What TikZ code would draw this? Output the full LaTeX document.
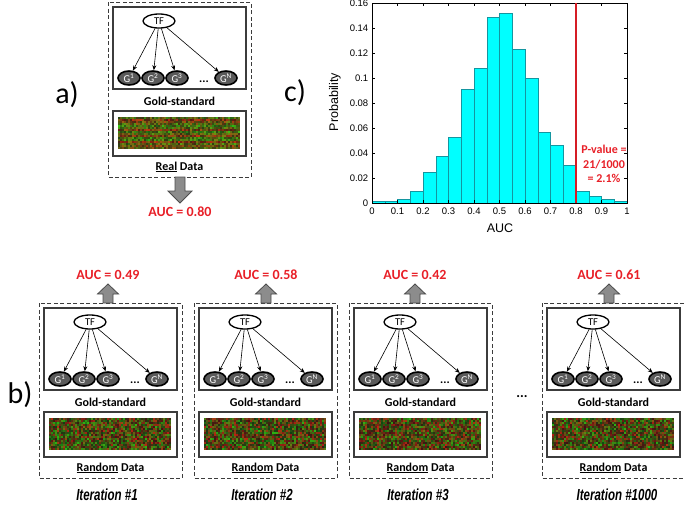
\documentclass[tikz,border=0pt]{standalone}
\usepackage{fontspec}
\usepackage{graphicx}
\setmainfont{Carlito}
\newfontfamily\arialf{Liberation Sans}
\usetikzlibrary{arrows.meta,shapes.geometric}
\definecolor{aucred}{RGB}{232,32,40}
\definecolor{gnode}{RGB}{90,90,90}
\definecolor{boxgray}{RGB}{60,60,60}
\definecolor{barcyan}{RGB}{0,255,255}
\definecolor{baredge}{RGB}{20,150,160}
\definecolor{arrowgray}{RGB}{140,140,140}
\tikzset{
 dashbox/.style={draw=boxgray, dash pattern=on 4pt off 2.5pt, line width=0.9pt},
 innerbox/.style={draw=boxgray, line width=1.2pt},
 tfnode/.style={ellipse, draw=black, line width=1.3pt, fill=white, minimum width=32pt, minimum height=14pt, inner sep=0pt, font=\fontsize{10.5}{10.5}\selectfont},
 gnodes/.style={ellipse, draw=black, line width=1.6pt, fill=gnode, text=white, minimum width=22pt, minimum height=14pt, inner sep=0pt, font=\fontsize{10.5}{10.5}\selectfont},
 tfarrow/.style={-{Stealth[length=5pt,width=4pt]}, line width=0.6pt},
 lbl/.style={font=\bfseries\fontsize{12}{12}\selectfont, inner sep=0pt},
 auclbl/.style={font=\bfseries\fontsize{14}{14}\selectfont, text=aucred, inner sep=0pt},
 blockarrow/.style={fill=arrowgray, draw=black!70, line width=0.8pt},
 iterlbl/.style={font=\arialf\bfseries\itshape\fontsize{16}{16}\selectfont, inner sep=0pt},
 panellbl/.style={font=\fontsize{30}{30}\selectfont, inner sep=0pt},
 ticklbl/.style={font=\arialf\fontsize{9.5}{10}\selectfont, inner sep=1pt},
 axlbl/.style={font=\arialf\fontsize{12.5}{13}\selectfont, inner sep=0pt},
 histbar/.style={fill=barcyan, draw=baredge, line width=0.5pt},
}
% heat map: #1 x, #2 y, #3 real flag (1 real, 0 random)
\newcommand\hmap[3]{%
 \foreach \j in {0,2,...,30} {%
  \pgfmathsetmacro\rb{rnd}%
  \foreach \i in {0,2,...,120} {%
   \pgfmathsetmacro\tt{(1-#3)*rnd + #3*(0.45*rnd+0.55*\rb)}%
   \pgfmathsetmacro\kk{0.3+0.55*rnd+#3*0.1}%
   \pgfmathsetmacro\rr{\kk*(0.18+0.7*\tt)}%
   \pgfmathsetmacro\gg{\kk*(0.15+0.72*(1-\tt))}%
   \definecolor{hmc}{rgb}{\rr,\gg,0.07}%
   \fill[hmc] (#1+\i,#2+\j) rectangle ++(2.05,2.05);
  }%
 }%
}
% panel: #1 x0, #2 y0, #3 name, #4 data word, #5 real flag
\newcommand\gpanel[5]{%
\begin{scope}[shift={(#1,#2)}]
 \draw[dashbox] (0,0) rectangle (143,175);
 \draw[innerbox] (5,5) rectangle (138,87);
 \node[tfnode] (#3tf) at (51,19) {TF};
 \node[gnodes] (#3ga) at (21,76) {G\textsuperscript{1}};
 \node[gnodes] (#3gb) at (45,76) {G\textsuperscript{2}};
 \node[gnodes] (#3gc) at (69,76) {G\textsuperscript{3}};
 \node[gnodes] (#3gn) at (118,76) {G\textsuperscript{N}};
 \node[lbl] (#3dots) at (96,80) {...};
 \draw[tfarrow] (#3tf) -- (#3ga);
 \draw[tfarrow] (#3tf) -- (#3gb);
 \draw[tfarrow] (#3tf) -- (#3gc);
 \draw[tfarrow] (#3tf) -- (#3gn);
 \node[lbl] (#3gs) at (71.5,99) {Gold-standard};
 \draw[innerbox] (5,109) rectangle (138,154);
 \hmap{10}{115}{#5}
 \node[lbl] (#3dl) at (71.5,165) {\underline{#4} Data};
\end{scope}}
% up arrow at x #1
\newcommand\uparr[1]{%
 \draw[blockarrow] (#1-5,303) -- (#1-5,294) -- (#1-10.5,294) -- (#1,284) -- (#1+10.5,294) -- (#1+5,294) -- (#1+5,303) -- cycle;}
\begin{document}
\begin{tikzpicture}[x=1pt,y=-1pt]
\useasboundingbox (0,0) rectangle (685,506);
\pgfmathsetseed{4242}
% panel a
\gpanel{108}{2}{pa}{Real}{1}
\draw[blockarrow] (175,177) -- (185,177) -- (185,191) -- (192,191) -- (180,203) -- (168,191) -- (175,191) -- cycle;
\node[auclbl] (auca) at (180,212) {AUC = 0.80};
\node[panellbl] (la) at (67,95) {a)};
% panel b
\gpanel{39}{303}{pb}{Random}{0}
\gpanel{194}{303}{pc}{Random}{0}
\gpanel{349}{303}{pd}{Random}{0}
\gpanel{542}{303}{pe}{Random}{0}
\uparr{108}
\uparr{266}
\uparr{415}
\uparr{609}
\node[auclbl] (aucb) at (108,275) {AUC = 0.49};
\node[auclbl] (aucc) at (266,275) {AUC = 0.58};
\node[auclbl] (aucd) at (415,275) {AUC = 0.42};
\node[auclbl] (auce) at (609,275) {AUC = 0.61};
\node[font=\bfseries\fontsize{14}{14}\selectfont, inner sep=0pt] (bdots) at (522,397) {...};
\node[iterlbl] (itb) at (107,495) {\scalebox{0.72}[1]{Iteration \#1}};
\node[iterlbl] (itc) at (262,495) {\scalebox{0.72}[1]{Iteration \#2}};
\node[iterlbl] (itd) at (418,495) {\scalebox{0.72}[1]{Iteration \#3}};
\node[iterlbl] (ite) at (617,495) {\scalebox{0.72}[1]{Iteration \#1000}};
\node[panellbl] (lb) at (20,395) {b)};
% panel c: histogram
\node[panellbl] (lc) at (295,93) {c)};
\begin{scope}[shift={(372,203.3)}, x=255pt, y=1250pt]
 \foreach \h [count=\n from 0] in {0.0013,0.002,0.003,0.010,0.025,0.038,0.053,0.091,0.108,0.1485,0.152,0.123,0.0997,0.057,0.0467,0.0307,0.010,0.006,0.003,0.002}
  \draw[histbar] ({\n*0.05},0) rectangle ({(\n+1)*0.05},\h);
 \draw[line width=0.5pt] (0,0) rectangle (1,0.16);
 \foreach \k/\t in {0/0,1/0.1,2/0.2,3/0.3,4/0.4,5/0.5,6/0.6,7/0.7,8/0.8,9/0.9,10/1} {
  \draw[line width=0.4pt] (\k/10,0) -- ++(0,0.0024);
  \draw[line width=0.4pt] (\k/10,0.16) -- ++(0,-0.0024);
  \node[ticklbl, anchor=north] at (\k/10,-0.003) {\t};
 }
 \foreach \p/\t in {0/0,0.02/0.02,0.04/0.04,0.06/0.06,0.08/0.08,0.1/0.1,0.12/0.12,0.14/0.14,0.16/0.16} {
  \draw[line width=0.4pt] (0,\p) -- ++(0.0118,0);
  \draw[line width=0.4pt] (1,\p) -- ++(-0.0118,0);
  \node[ticklbl, anchor=east] at (-0.01,\p) {\t};
 }
 \draw[line width=2.5pt, draw=aucred!92!black] (0.8,0) -- (0.8,0.16);
\end{scope}
\node[axlbl, rotate=90] (ylab) at (335,102) {Probability};
\node[axlbl] (xlab) at (500,228) {AUC};
\node[font=\bfseries\fontsize{12}{14.5}\selectfont, text=aucred, align=center, inner sep=0pt] (pval) at (604,164) {P-value =\\21/1000\\= 2.1\%};
\end{tikzpicture}
\end{document}
